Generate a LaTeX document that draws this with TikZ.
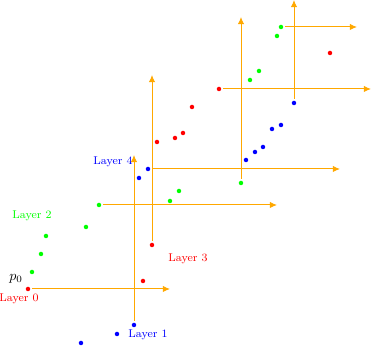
\documentclass[tikz,border=0pt]{standalone}
\usepackage{tikz}
\usetikzlibrary{arrows.meta}

\definecolor{axisorange}{RGB}{255,168,0}

\begin{document}
\begin{tikzpicture}[x=0.025cm,y=0.025cm,>=Latex,
  dot/.style={circle,inner sep=0pt,outer sep=0pt,minimum size=3.2pt},
  reddot/.style={dot,fill=red},
  greendot/.style={dot,fill=green},
  bluedot/.style={dot,fill=blue},
  axis/.style={draw=axisorange,line width=0.7pt,shorten <=1.4pt,-{Latex[length=5pt,width=4.5pt]}},
  layerlabel/.style={font=\footnotesize,inner sep=1pt}]
\useasboundingbox (0,0) rectangle (371,346);
% layer 0 (red)
\node[reddot] (r0) at (28,57) {};
\node[reddot] (r1) at (143,65) {};
\node[reddot] (r2) at (152,101) {};
\node[reddot] (r3) at (157,204) {};
\node[reddot] (r4) at (175,208) {};
\node[reddot] (r5) at (183,213) {};
\node[reddot] (r6) at (192,239) {};
\node[reddot] (r7) at (219,257) {};
\node[reddot] (r8) at (330,293) {};
% layer 2 (green)
\node[greendot] (g0) at (32,74) {};
\node[greendot] (g1) at (41,92) {};
\node[greendot] (g2) at (46,110) {};
\node[greendot] (g3) at (86,119) {};
\node[greendot] (g4) at (99,141) {};
\node[greendot] (g5) at (170,145) {};
\node[greendot] (g6) at (179,155) {};
\node[greendot] (g7) at (241,163) {};
\node[greendot] (g8) at (250,266) {};
\node[greendot] (g9) at (259,275) {};
\node[greendot] (g10) at (277,310) {};
\node[greendot] (g11) at (281,319) {};
% layer 1 (blue)
\node[bluedot] (b0) at (81,3) {};
\node[bluedot] (b1) at (117,12) {};
\node[bluedot] (b2) at (134,21) {};
\node[bluedot] (b3) at (139,168) {};
\node[bluedot] (b4) at (148,177) {};
\node[bluedot] (b5) at (246,186) {};
\node[bluedot] (b6) at (255,194) {};
\node[bluedot] (b7) at (263,199) {};
\node[bluedot] (b8) at (272,217) {};
\node[bluedot] (b9) at (281,221) {};
\node[bluedot] (b10) at (294,243) {};
% labels
\node (p0_lbl) at (16,67) {$p_0$};
\node[layerlabel,text=red] (lay0) at (19,47) {Layer 0};
\node[layerlabel,text=blue] (lay1) at (148,11) {Layer 1};
\node[layerlabel,text=green] (lay2) at (32,130) {Layer 2};
\node[layerlabel,text=red] (lay3) at (188,87) {Layer 3};
\node[layerlabel,text=blue] (lay4) at (113,184) {Layer 4};
% arrow ends
\coordinate (h0) at (170,57);
\coordinate (v0) at (134,191);
\coordinate (h1) at (277,141);
\coordinate (v1) at (152,271);
\coordinate (h2) at (340,177);
\coordinate (v2) at (241,329);
\coordinate (h3) at (371,257);
\coordinate (v3) at (294,346);
\coordinate (h4) at (357,319);
% axes
\draw[axis] (r0)--(h0);
\draw[axis] (b2)--(v0);
\draw[axis] (g4)--(h1);
\draw[axis] (r2)--(v1);
\draw[axis] (b4)--(h2);
\draw[axis] (g7)--(v2);
\draw[axis] (r7)--(h3);
\draw[axis] (b10)--(v3);
\draw[axis] (g11)--(h4);
\end{tikzpicture}
\end{document}
